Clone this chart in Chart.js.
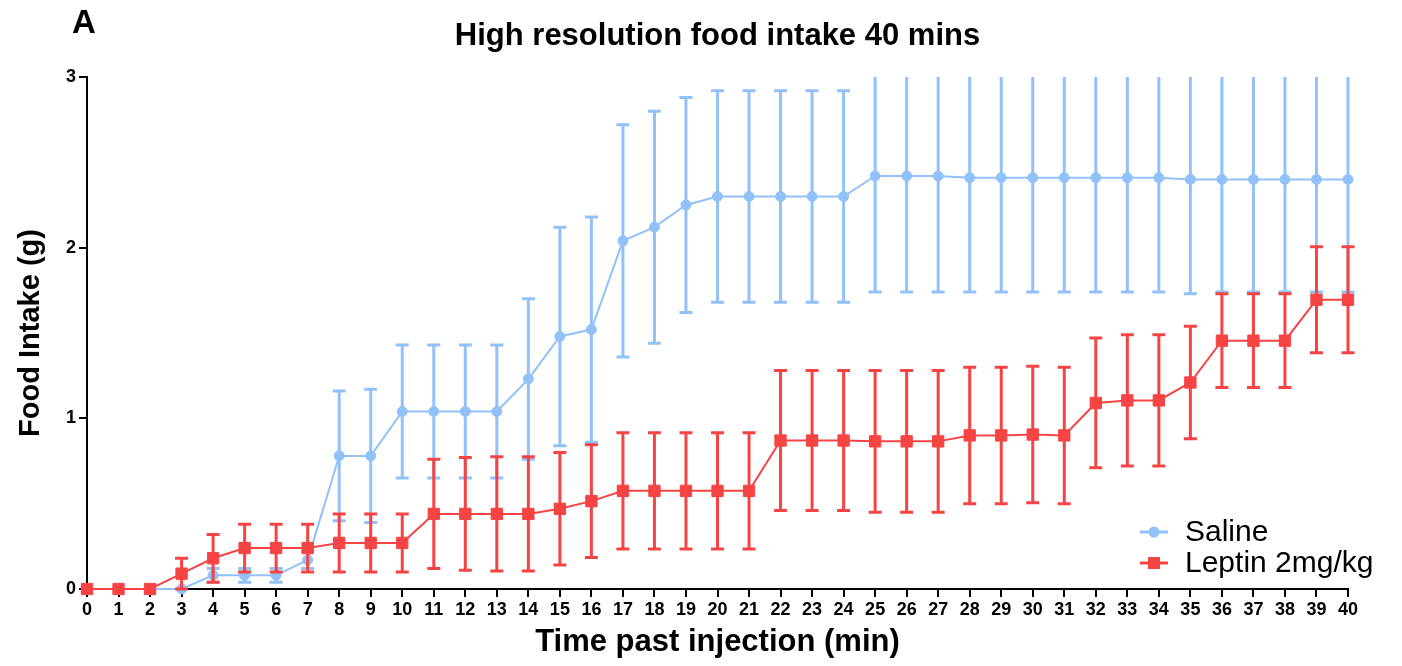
<!DOCTYPE html>
<html>
<head>
<meta charset="utf-8">
<script src="https://cdn.jsdelivr.net/npm/chart.js@4.4.0/dist/chart.umd.min.js"></script>
<style>
  html, body { margin: 0; padding: 0; background: #fff; }
  #wrap { width: 1402px; height: 666px; }
</style>
</head>
<body>
<div id="wrap"><canvas id="intakeChart" width="1402" height="666"></canvas></div>
<script>
/* ── Cumulative food intake, saline vs leptin, mean ± SEM per minute ── */

const minutes = ['0', '1', '2', '3', '4', '5', '6', '7', '8', '9', '10',
  '11', '12', '13', '14', '15', '16', '17', '18', '19', '20',
  '21', '22', '23', '24', '25', '26', '27', '28', '29', '30',
  '31', '32', '33', '34', '35', '36', '37', '38', '39', '40'];

const salineMean = [0, 0, 0, 0, 0.08, 0.08, 0.08, 0.17, 0.78, 0.78, 1.04,
  1.04, 1.04, 1.04, 1.23, 1.48, 1.52, 2.04, 2.12, 2.25, 2.30,
  2.30, 2.30, 2.30, 2.30, 2.42, 2.42, 2.42, 2.41, 2.41, 2.41,
  2.41, 2.41, 2.41, 2.41, 2.40, 2.40, 2.40, 2.40, 2.40, 2.40];
const salineSem = [0, 0, 0, 0, 0.04, 0.04, 0.04, 0.05, 0.38, 0.39, 0.39,
  0.39, 0.39, 0.39, 0.47, 0.64, 0.66, 0.68, 0.68, 0.63, 0.62,
  0.62, 0.62, 0.62, 0.62, 0.68, 0.68, 0.68, 0.67, 0.67, 0.67,
  0.67, 0.67, 0.67, 0.67, 0.67, 0.66, 0.66, 0.66, 0.66, 0.66];

const leptinMean = [0, 0, 0, 0.09, 0.18, 0.24, 0.24, 0.24, 0.27, 0.27, 0.27,
  0.44, 0.44, 0.44, 0.44, 0.47, 0.515, 0.575, 0.575, 0.575, 0.575,
  0.575, 0.87, 0.87, 0.87, 0.865, 0.865, 0.865, 0.90, 0.90, 0.905,
  0.90, 1.09, 1.105, 1.105, 1.21, 1.455, 1.455, 1.455, 1.695, 1.695];
const leptinSem = [0, 0, 0, 0.09, 0.14, 0.14, 0.14, 0.14, 0.17, 0.17, 0.17,
  0.32, 0.33, 0.335, 0.335, 0.33, 0.33, 0.34, 0.34, 0.34, 0.34,
  0.34, 0.41, 0.41, 0.41, 0.415, 0.415, 0.415, 0.40, 0.40, 0.40,
  0.40, 0.38, 0.385, 0.385, 0.33, 0.275, 0.275, 0.275, 0.31, 0.31];

const chartTitle = 'High resolution food intake 40 mins';

const BLUE = '#92c1f9';
const RED = '#f64444';
const FONT = "Arial, 'Liberation Sans', sans-serif";

// vertical SEM whiskers with caps, drawn just before each dataset's line
const errorBars = {
  id: 'errorBars',
  beforeDatasetDraw(chart, args) {
    const ds = chart.data.datasets[args.index];
    if (!ds.sem) return;
    const { ctx, chartArea: a, scales: { x, y } } = chart;
    ctx.save();
    ctx.beginPath();
    ctx.rect(a.left - 20, a.top, a.right - a.left + 40, a.bottom - a.top + 20);
    ctx.clip();
    ctx.strokeStyle = ds.borderColor;
    ctx.lineWidth = 3;
    ds.data.forEach((v, i) => {
      const e = ds.sem[i];
      if (!e) return;
      const px = x.getPixelForValue(i);
      const hi = y.getPixelForValue(v + e);
      const lo = y.getPixelForValue(v - e);
      ctx.beginPath();
      ctx.moveTo(px, hi); ctx.lineTo(px, lo);
      ctx.moveTo(px - 6.5, hi); ctx.lineTo(px + 6.5, hi);
      ctx.moveTo(px - 6.5, lo); ctx.lineTo(px + 6.5, lo);
      ctx.stroke();
    });
    ctx.restore();
  }
};

// title centred over the plot, panel letter, and the legend in the lower right corner
const decorations = {
  id: 'decorations',
  afterDraw(chart) {
    const { ctx, chartArea: a } = chart;
    ctx.save();
    ctx.fillStyle = '#000';
    ctx.textBaseline = 'middle';

    ctx.font = 'bold 33px ' + FONT;
    ctx.textAlign = 'left';
    ctx.fillText('A', 72, 24);

    ctx.font = 'bold 31px ' + FONT;
    ctx.textAlign = 'center';
    ctx.fillText(chartTitle, (a.left + a.right) / 2, 36);

    ctx.font = '30px ' + FONT;
    ctx.textAlign = 'left';
    const rows = [chart.data.datasets[1], chart.data.datasets[0]];
    rows.forEach((ds, k) => {
      const yy = a.bottom - 57 + k * 31;
      const x0 = a.right - 208;
      ctx.strokeStyle = ds.borderColor;
      ctx.lineWidth = 3;
      ctx.beginPath();
      ctx.moveTo(x0, yy); ctx.lineTo(x0 + 28, yy);
      ctx.stroke();
      ctx.fillStyle = ds.borderColor;
      if (ds.pointStyle === 'rect') {
        ctx.fillRect(x0 + 8, yy - 6, 12, 12);
      } else {
        ctx.beginPath();
        ctx.arc(x0 + 14, yy, 5.5, 0, Math.PI * 2);
        ctx.fill();
      }
      ctx.fillStyle = '#000';
      ctx.fillText(ds.label, a.right - 163, yy + 1);
    });
    ctx.restore();
  }
};

const axisStyle = {
  grid: { display: true, drawOnChartArea: false, drawTicks: true, tickLength: 8, lineWidth: 2, color: '#000' },
  border: { display: true, color: '#000', width: 2 },
};

new Chart(document.getElementById('intakeChart'), {
  type: 'line',
  data: {
    labels: minutes,
    datasets: [
      {
        label: 'Leptin 2mg/kg',
        data: leptinMean,
        sem: leptinSem,
        borderColor: RED,
        backgroundColor: RED,
        borderWidth: 2,
        pointStyle: 'rect',
        pointRadius: 8,
        pointBorderWidth: 1,
        tension: 0,
        clip: false,
        order: 1,
      },
      {
        label: 'Saline',
        data: salineMean,
        sem: salineSem,
        borderColor: BLUE,
        backgroundColor: BLUE,
        borderWidth: 2,
        pointStyle: 'circle',
        pointRadius: 5,
        pointBorderWidth: 1,
        tension: 0,
        clip: false,
        order: 2,
      },
    ],
  },
  options: {
    responsive: false,
    animation: false,
    layout: { padding: { left: 0, right: 54, top: 77, bottom: 0 } },
    plugins: {
      legend: { display: false },
      tooltip: { enabled: false },
      title: { display: false },
    },
    scales: {
      x: {
        ...axisStyle,
        offset: false,
        ticks: { color: '#000', font: { family: FONT, size: 18, weight: 'bold' }, padding: 2, autoSkip: false, maxRotation: 0 },
        title: {
          display: true, text: 'Time past injection (min)', color: '#000',
          font: { family: FONT, size: 31, weight: 'bold' }, padding: { top: 0, bottom: 5 },
        },
        afterFit(s) { s.height = 77; },
      },
      y: {
        ...axisStyle,
        min: 0,
        max: 3,
        ticks: { stepSize: 1, color: '#000', font: { family: FONT, size: 18, weight: 'bold' }, padding: 3 },
        title: {
          display: true, text: 'Food Intake (g)', color: '#000',
          font: { family: FONT, size: 29, weight: 'bold' }, padding: { top: 14, bottom: 0 },
        },
        afterFit(s) { s.width = 87; },
      },
    },
  },
  plugins: [errorBars, decorations],
});
</script>
</body>
</html>
